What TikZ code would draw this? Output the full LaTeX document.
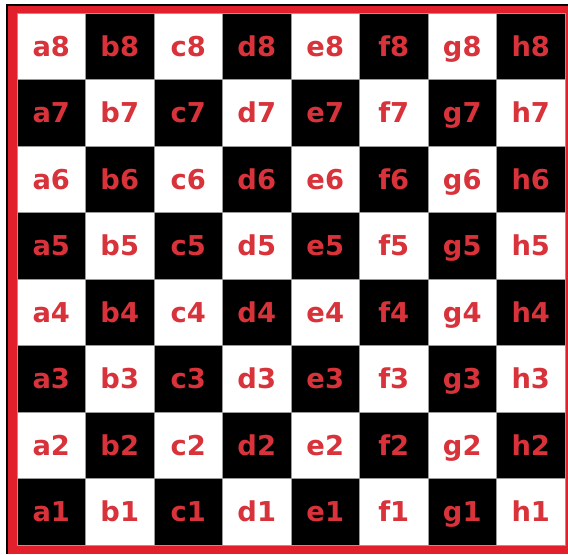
\documentclass[tikz,border=0pt]{standalone}
\usepackage{fontspec}
\setmainfont{DejaVu Sans}
\definecolor{framered}{HTML}{E2202B}
\definecolor{labelred}{HTML}{D8323A}
\definecolor{seamgray}{HTML}{9A9A9A}

\tikzset{
  square/.style={minimum width=51.375pt, minimum height=49.875pt, inner sep=0pt,
    outer sep=0pt, draw=seamgray, line width=0.3pt, text=labelred,
    text height=15pt, text depth=0pt,
    font=\fontsize{20.5}{24}\selectfont\bfseries},
  darksq/.style={square, fill=black},
  lightsq/.style={square, fill=white}
}

\begin{document}
\begin{tikzpicture}[x=0.75pt, y=-0.75pt]
\useasboundingbox (0,0) rectangle (568,554);

% Frame
\fill[framered] (8,6) rectangle (568,554);
\draw[black, line width=1.2pt] (7,554) -- (7,5) -- (568,5);

% Board: 8 files x 8 ranks, a1 dark
% file i -> x = 17 + 68.5*i, rank r -> y = 13 + 66.5*(8-r)
\foreach \c [count=\i from 0] in {a,b,c,d,e,f,g,h} {
  \foreach \r in {1,...,8} {
    \pgfmathtruncatemacro\odd{mod(\i+\r,2)}
    \ifnum\odd=1
      \node[darksq] (\c\r) at ({51.25+68.5*\i},{46.25+66.5*(8-\r)}) {\c\r};
    \else
      \node[lightsq] (\c\r) at ({51.25+68.5*\i},{46.25+66.5*(8-\r)}) {\c\r};
    \fi
  }
}

\end{tikzpicture}
\end{document}
